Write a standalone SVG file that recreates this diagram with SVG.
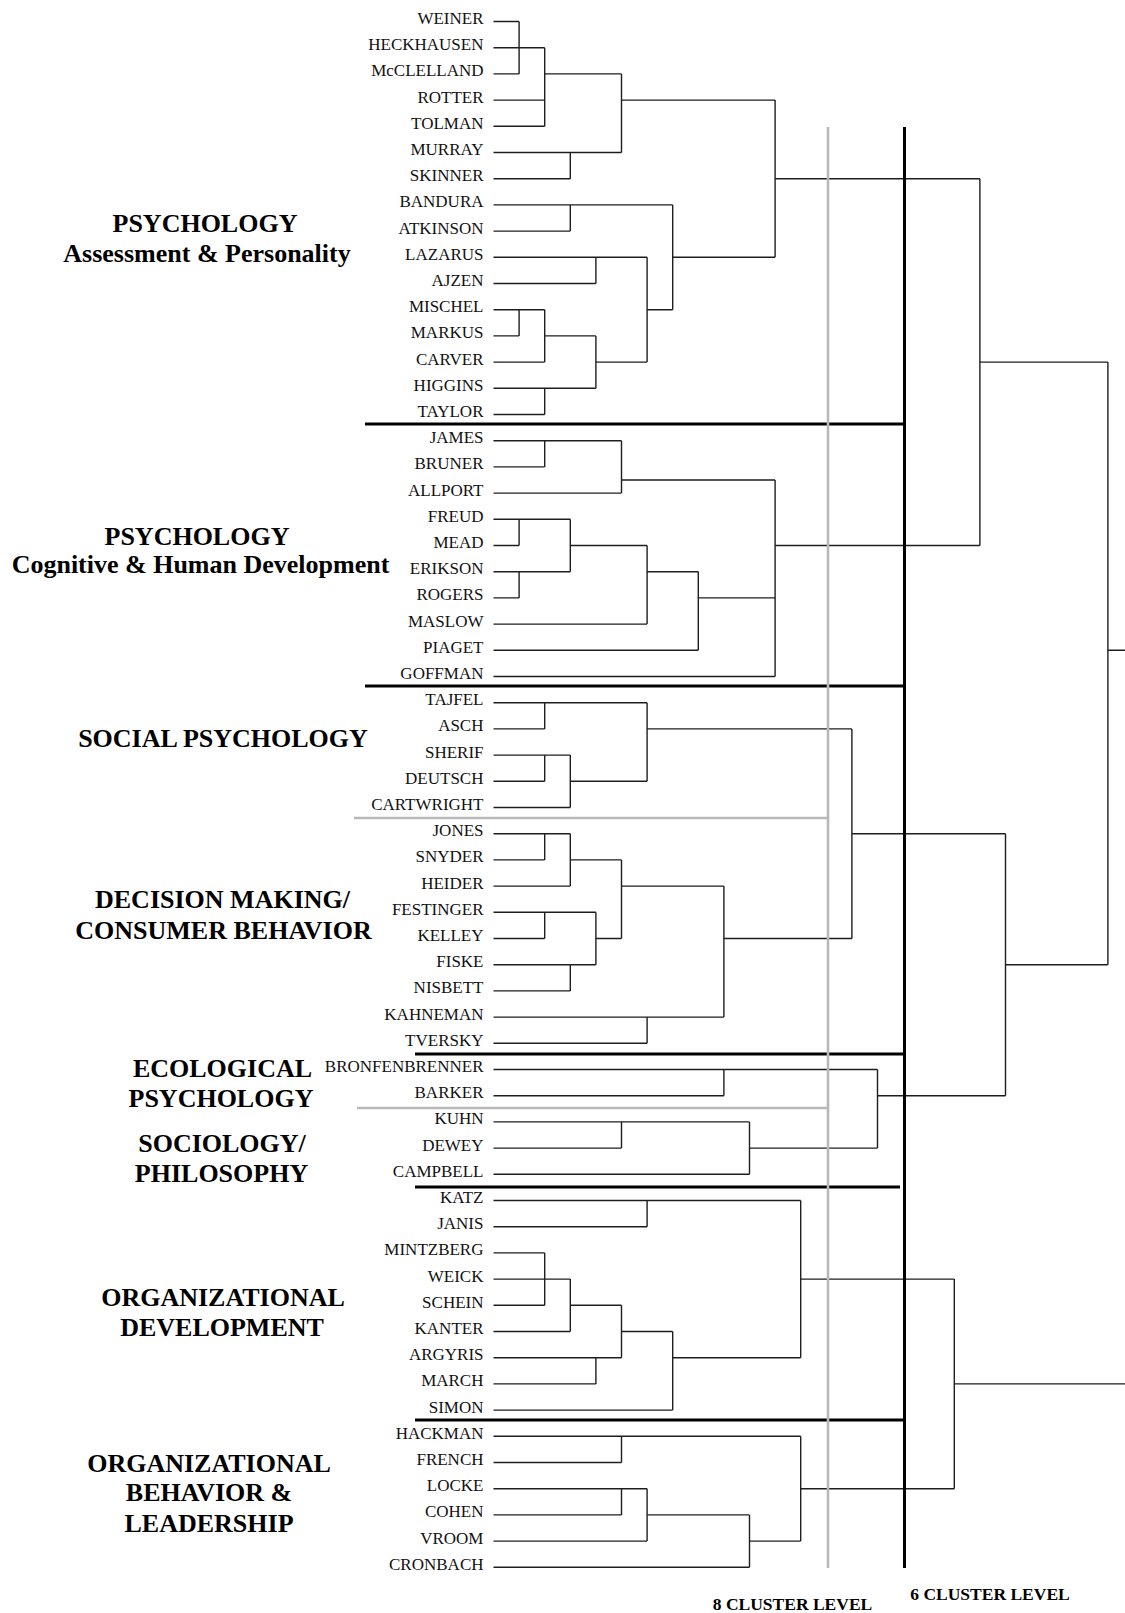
<svg xmlns="http://www.w3.org/2000/svg" width="1125" height="1613" viewBox="0 0 1125 1613">
  <style>
    .leaf { font-family: "Liberation Serif", "Times New Roman", serif; font-size: 17px; text-anchor: end; fill: #111; }
    .cat { font-family: "Liberation Serif", "Times New Roman", serif; font-size: 26px; font-weight: bold; text-anchor: middle; fill: #000; }
    .lvl { font-family: "Liberation Serif", "Times New Roman", serif; font-size: 17.5px; font-weight: bold; text-anchor: middle; fill: #000; }
    .link { fill: none; stroke: #1e1e1e; stroke-width: 1.4; }
    .div-black { fill: none; stroke: #000; stroke-width: 3; }
    .div-gray { fill: none; stroke: #b8b8b8; stroke-width: 2.6; }
  </style>
  <rect width="1125" height="1613" fill="#fff"/>

  <!-- dendrogram branches: leaf stubs, then vertical joins, then horizontal links -->
  <g id="connectors" class="link">
    <path d="M493.5 21.5H519.1 M493.5 47.7H544.7 M493.5 73.9H519.1 M493.5 100.1H544.7 M493.5 126.3H544.7 M493.5 152.5H621.5 M493.5 178.7H570.3 M493.5 204.9H672.7 M493.5 231.1H570.3 M493.5 257.3H647.1 M493.5 283.5H595.9 M493.5 309.7H544.7 M493.5 335.9H519.1 M493.5 362.1H544.7 M493.5 388.3H595.9 M493.5 414.5H544.7"/>
    <path d="M493.5 440.7H621.5 M493.5 466.9H544.7 M493.5 493.1H621.5 M493.5 519.3H570.3 M493.5 545.5H519.1 M493.5 571.7H570.3 M493.5 597.9H519.1 M493.5 624.1H647.1 M493.5 650.3H698.3 M493.5 676.5H775.1"/>
    <path d="M493.5 702.7H647.1 M493.5 728.9H544.7 M493.5 755.1H570.3 M493.5 781.3H544.7 M493.5 807.5H570.3"/>
    <path d="M493.5 833.7H570.3 M493.5 859.9H544.7 M493.5 886.1H570.3 M493.5 912.3H595.9 M493.5 938.5H544.7 M493.5 964.7H570.3 M493.5 990.9H570.3 M493.5 1017.1H723.9 M493.5 1043.3H647.1"/>
    <path d="M493.5 1069.5H877.5 M493.5 1095.7H723.9 M493.5 1121.9H749.5 M493.5 1148.1H621.5 M493.5 1174.3H749.5"/>
    <path d="M493.5 1200.5H800.7 M493.5 1226.7H647.1 M493.5 1252.9H544.7 M493.5 1279.1H570.3 M493.5 1305.3H544.7 M493.5 1331.5H570.3 M493.5 1357.7H621.5 M493.5 1383.9H595.9 M493.5 1410.1H672.7"/>
    <path d="M493.5 1436.3H800.7 M493.5 1462.5H621.5 M493.5 1488.7H647.1 M493.5 1514.9H621.5 M493.5 1541.1H647.1 M493.5 1567.3H749.5"/>

    <path d="M519.1 21.5V73.9 M519.1 309.7V335.9 M519.1 519.3V545.5 M519.1 571.7V597.9"/>
    <path d="M544.7 47.7V126.3 M544.7 309.7V362.1 M544.7 388.3V414.5 M544.7 440.7V466.9 M544.7 702.7V728.9 M544.7 755.1V781.3 M544.7 833.7V859.9 M544.7 912.3V938.5 M544.7 1252.9V1305.3"/>
    <path d="M570.3 152.5V178.7 M570.3 204.9V231.1 M570.3 519.3V571.7 M570.3 755.1V807.5 M570.3 833.7V886.1 M570.3 964.7V990.9 M570.3 1279.1V1331.5"/>
    <path d="M595.9 257.3V283.5 M595.9 335.9V388.3 M595.9 912.3V964.7 M595.9 1357.7V1383.9"/>
    <path d="M621.5 73.9V152.5 M621.5 440.7V493.1 M621.5 859.9V938.5 M621.5 1121.9V1148.1 M621.5 1305.3V1357.7 M621.5 1436.3V1462.5 M621.5 1488.7V1514.9"/>
    <path d="M647.1 257.3V362.1 M647.1 545.5V624.1 M647.1 702.7V781.3 M647.1 1017.1V1043.3 M647.1 1200.5V1226.7 M647.1 1488.7V1541.1"/>
    <path d="M672.7 204.9V309.7 M672.7 1331.5V1410.1 M698.3 571.7V650.3 M723.9 886.1V1017.1 M723.9 1069.5V1095.7"/>
    <path d="M749.5 1121.9V1174.3 M749.5 1514.9V1567.3 M775.1 100.1V257.3 M775.1 480V676.5 M800.7 1200.5V1357.7 M800.7 1436.3V1541.1"/>
    <path d="M851.9 728.9V938.5 M877.5 1069.5V1148.1 M954.3 1279.1V1488.7 M979.9 178.7V545.5 M1005.5 833.7V1095.7 M1107.9 362.1V964.7"/>

    <path d="M544.7 73.9H621.5 M621.5 100.1H775.1 M775.1 178.7H979.9 M672.7 257.3H775.1 M647.1 309.7H672.7 M544.7 335.9H595.9 M595.9 362.1H647.1 M979.9 362.1H1107.9"/>
    <path d="M621.5 480H775.1 M570.3 545.5H647.1 M775.1 545.5H979.9 M647.1 571.7H698.3 M698.3 597.9H775.1 M1107.9 650.3H1125"/>
    <path d="M647.1 728.9H851.9 M570.3 781.3H647.1 M851.9 833.7H1005.5 M570.3 859.9H621.5 M621.5 886.1H723.9 M595.9 938.5H621.5 M723.9 938.5H851.9 M570.3 964.7H595.9 M1005.5 964.7H1107.9"/>
    <path d="M877.5 1095.7H1005.5 M749.5 1148.1H877.5"/>
    <path d="M800.7 1279.1H954.3 M570.3 1305.3H621.5 M621.5 1331.5H672.7 M672.7 1357.7H800.7 M954.3 1383.9H1125 M800.7 1488.7H954.3 M647.1 1514.9H749.5 M749.5 1541.1H800.7"/>
  </g>

  <!-- cluster separators and cut levels -->
  <g id="cluster-dividers">
    <path class="div-black" d="M365 424H904.5 M365 686H904.5 M415 1054H904.5 M415 1187H900 M415 1420H904.5"/>
    <path class="div-gray" d="M354 818H828 M357 1108H828"/>
    <line class="div-gray" x1="828" y1="127" x2="828" y2="1568"/>
    <line class="div-black" x1="904.5" y1="127" x2="904.5" y2="1568"/>
  </g>

  <g id="leaves" class="leaf">
    <g id="n-weiner"><text x="483.5" y="24">WEINER</text></g>
    <g id="n-heckhausen"><text x="483.5" y="50.2">HECKHAUSEN</text></g>
    <g id="n-mcclelland"><text x="483.5" y="76.4">McCLELLAND</text></g>
    <g id="n-rotter"><text x="483.5" y="102.6">ROTTER</text></g>
    <g id="n-tolman"><text x="483.5" y="128.8">TOLMAN</text></g>
    <g id="n-murray"><text x="483.5" y="155">MURRAY</text></g>
    <g id="n-skinner"><text x="483.5" y="181.2">SKINNER</text></g>
    <g id="n-bandura"><text x="483.5" y="207.4">BANDURA</text></g>
    <g id="n-atkinson"><text x="483.5" y="233.6">ATKINSON</text></g>
    <g id="n-lazarus"><text x="483.5" y="259.8">LAZARUS</text></g>
    <g id="n-ajzen"><text x="483.5" y="286">AJZEN</text></g>
    <g id="n-mischel"><text x="483.5" y="312.2">MISCHEL</text></g>
    <g id="n-markus"><text x="483.5" y="338.4">MARKUS</text></g>
    <g id="n-carver"><text x="483.5" y="364.6">CARVER</text></g>
    <g id="n-higgins"><text x="483.5" y="390.8">HIGGINS</text></g>
    <g id="n-taylor"><text x="483.5" y="417">TAYLOR</text></g>
    <g id="n-james"><text x="483.5" y="443.2">JAMES</text></g>
    <g id="n-bruner"><text x="483.5" y="469.4">BRUNER</text></g>
    <g id="n-allport"><text x="483.5" y="495.6">ALLPORT</text></g>
    <g id="n-freud"><text x="483.5" y="521.8">FREUD</text></g>
    <g id="n-mead"><text x="483.5" y="548">MEAD</text></g>
    <g id="n-erikson"><text x="483.5" y="574.2">ERIKSON</text></g>
    <g id="n-rogers"><text x="483.5" y="600.4">ROGERS</text></g>
    <g id="n-maslow"><text x="483.5" y="626.6">MASLOW</text></g>
    <g id="n-piaget"><text x="483.5" y="652.8">PIAGET</text></g>
    <g id="n-goffman"><text x="483.5" y="679">GOFFMAN</text></g>
    <g id="n-tajfel"><text x="483.5" y="705.2">TAJFEL</text></g>
    <g id="n-asch"><text x="483.5" y="731.4">ASCH</text></g>
    <g id="n-sherif"><text x="483.5" y="757.6">SHERIF</text></g>
    <g id="n-deutsch"><text x="483.5" y="783.8">DEUTSCH</text></g>
    <g id="n-cartwright"><text x="483.5" y="810">CARTWRIGHT</text></g>
    <g id="n-jones"><text x="483.5" y="836.2">JONES</text></g>
    <g id="n-snyder"><text x="483.5" y="862.4">SNYDER</text></g>
    <g id="n-heider"><text x="483.5" y="888.6">HEIDER</text></g>
    <g id="n-festinger"><text x="483.5" y="914.8">FESTINGER</text></g>
    <g id="n-kelley"><text x="483.5" y="941">KELLEY</text></g>
    <g id="n-fiske"><text x="483.5" y="967.2">FISKE</text></g>
    <g id="n-nisbett"><text x="483.5" y="993.4">NISBETT</text></g>
    <g id="n-kahneman"><text x="483.5" y="1019.6">KAHNEMAN</text></g>
    <g id="n-tversky"><text x="483.5" y="1045.8">TVERSKY</text></g>
    <g id="n-bronfenbrenner"><text x="483.5" y="1072">BRONFENBRENNER</text></g>
    <g id="n-barker"><text x="483.5" y="1098.2">BARKER</text></g>
    <g id="n-kuhn"><text x="483.5" y="1124.4">KUHN</text></g>
    <g id="n-dewey"><text x="483.5" y="1150.6">DEWEY</text></g>
    <g id="n-campbell"><text x="483.5" y="1176.8">CAMPBELL</text></g>
    <g id="n-katz"><text x="483.5" y="1203">KATZ</text></g>
    <g id="n-janis"><text x="483.5" y="1229.2">JANIS</text></g>
    <g id="n-mintzberg"><text x="483.5" y="1255.4">MINTZBERG</text></g>
    <g id="n-weick"><text x="483.5" y="1281.6">WEICK</text></g>
    <g id="n-schein"><text x="483.5" y="1307.8">SCHEIN</text></g>
    <g id="n-kanter"><text x="483.5" y="1334">KANTER</text></g>
    <g id="n-argyris"><text x="483.5" y="1360.2">ARGYRIS</text></g>
    <g id="n-march"><text x="483.5" y="1386.4">MARCH</text></g>
    <g id="n-simon"><text x="483.5" y="1412.6">SIMON</text></g>
    <g id="n-hackman"><text x="483.5" y="1438.8">HACKMAN</text></g>
    <g id="n-french"><text x="483.5" y="1465">FRENCH</text></g>
    <g id="n-locke"><text x="483.5" y="1491.2">LOCKE</text></g>
    <g id="n-cohen"><text x="483.5" y="1517.4">COHEN</text></g>
    <g id="n-vroom"><text x="483.5" y="1543.6">VROOM</text></g>
    <g id="n-cronbach"><text x="483.5" y="1569.8">CRONBACH</text></g>
  </g>

  <g id="cluster-labels" class="cat">
    <g id="c-assessment"><text x="205" y="232">PSYCHOLOGY</text><text x="207" y="262">Assessment &amp; Personality</text></g>
    <g id="c-cognitive"><text x="197" y="545">PSYCHOLOGY</text><text x="200.5" y="573">Cognitive &amp; Human Development</text></g>
    <g id="c-social"><text x="223" y="747">SOCIAL PSYCHOLOGY</text></g>
    <g id="c-decision"><text x="222.5" y="908">DECISION MAKING/</text><text x="223.5" y="939">CONSUMER BEHAVIOR</text></g>
    <g id="c-ecological"><text x="222.5" y="1077">ECOLOGICAL</text><text x="221" y="1107">PSYCHOLOGY</text></g>
    <g id="c-sociology"><text x="222" y="1152">SOCIOLOGY/</text><text x="221.5" y="1182">PHILOSOPHY</text></g>
    <g id="c-orgdev"><text x="223" y="1306">ORGANIZATIONAL</text><text x="222" y="1336">DEVELOPMENT</text></g>
    <g id="c-orgbeh"><text x="209" y="1472">ORGANIZATIONAL</text><text x="209" y="1501">BEHAVIOR &amp;</text><text x="209" y="1532">LEADERSHIP</text></g>
  </g>

  <g id="level-labels" class="lvl">
    <text x="792.5" y="1610">8 CLUSTER LEVEL</text>
    <text x="990" y="1600">6 CLUSTER LEVEL</text>
  </g>
</svg>
